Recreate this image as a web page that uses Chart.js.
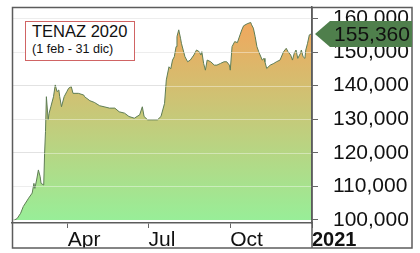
<!DOCTYPE html>
<html>
<head>
<meta charset="utf-8">
<script src="https://cdn.jsdelivr.net/npm/chart.js@4.4.1/dist/chart.umd.min.js"></script>
<style>
  html, body { margin: 0; padding: 0; background: #fff; }
  #wrap { position: relative; width: 420px; height: 253px; }
  canvas { display: block; }
  #note {
    position: absolute; left: 25px; top: 21px; width: 110px; height: 40px;
    box-sizing: border-box; border: 1px solid #d06464; background: #fff;
    font-family: "Liberation Sans", Arial, sans-serif; color: #111;
  }
  #note .t { position: absolute; left: 6px; top: 1px; font-size: 16.5px; line-height: 16.5px; white-space: nowrap; }
  #note .s { position: absolute; left: 6px; top: 21px; font-size: 12.6px; line-height: 12.6px; white-space: nowrap; }
</style>
</head>
<body>
<div id="wrap">
  <canvas id="chart" width="420" height="253"></canvas>
  <div id="note"><div class="t">TENAZ 2020</div><div class="s">(1 feb - 31 dic)</div></div>
</div>
<script>
// day of year 2020 (1 jan = 0) and close values
const days = [31, 34, 38, 41, 47, 51, 53, 54, 56, 58, 60, 61, 64, 65, 66, 67, 69, 70, 72, 75,
  77, 79, 81, 82, 84, 87, 90, 92, 95, 97, 103, 109, 110, 116, 121, 127, 132, 138, 144, 149,
  155, 160, 166, 172, 175, 177, 181, 187, 192, 196, 200, 202, 205, 207, 209, 211, 213, 214, 216, 218,
  219, 221, 223, 226, 229, 233, 236, 239, 241, 242, 244, 246, 248, 252, 256, 259, 263, 267, 270, 273,
  274, 276, 279, 282, 285, 287, 289, 293, 297, 298, 300, 302, 304, 306, 310, 312, 313, 315, 319, 323,
  326, 330, 334, 337, 339, 342, 344, 346, 348, 350, 353, 354, 356, 358, 359, 361, 363, 365];
const closes = [100000, 100400, 102000, 104000, 106500, 108000, 110900, 109400, 111900, 114900, 112900, 110900, 110400, 119900, 126300, 136700, 129800, 131700, 133700, 136700,
  140200, 138200, 138700, 136700, 133700, 136700, 138200, 139200, 139700, 137700, 137700, 137200, 136700, 135500, 135000, 134000, 133700, 133300, 133300, 132200,
  131800, 130800, 130300, 131300, 133700, 130800, 129800, 129800, 129800, 130800, 134700, 141700, 145600, 145000, 147600, 148600, 151600, 154600, 156600, 154100,
  152600, 150600, 148600, 147100, 147600, 149100, 150600, 150100, 149100, 150100, 146600, 144600, 147600, 147100, 146100, 146100, 146600, 147100, 147100, 146100,
  144600, 151600, 153100, 152800, 155100, 156600, 157800, 158400, 158800, 158100, 157100, 154600, 151600, 150100, 147600, 148100, 147100, 145100, 146100, 146600,
  147100, 147600, 150100, 151100, 150100, 149100, 147600, 149600, 150600, 148100, 149600, 150600, 148600, 148100, 150600, 152600, 155100, 155360];

const xTickDays = [91, 182, 274, 366];
const xTickLabels = ["Apr", "Jul", "Oct", "2021"];
const yTicks = [100000, 110000, 120000, 130000, 140000, 150000, 160000];

const FONT = "'Liberation Sans', Arial, sans-serif";

const framePlugin = {
  id: "frame",
  afterDatasetsDraw(chart) {
    const {ctx, chartArea: a, scales: {y}} = chart;
    ctx.save();
    ctx.strokeStyle = "rgba(255,255,255,0.4)";
    ctx.lineWidth = 1;
    yTicks.forEach(v => {
      const py = Math.round(y.getPixelForValue(v)) + 0.5;
      ctx.beginPath();
      ctx.moveTo(a.left, py);
      ctx.lineTo(a.right, py);
      ctx.stroke();
    });
    ctx.restore();
  },
  afterDraw(chart) {
    const {ctx, chartArea: a, scales: {y}} = chart;
    ctx.save();
    ctx.strokeStyle = "#5c5c5c";
    ctx.lineWidth = 1.5;
    ctx.strokeRect(12.5, 7.5, 399.5, 240.5);
    ctx.beginPath();
    ctx.moveTo(a.right, a.top);
    ctx.lineTo(a.right, 248);
    ctx.stroke();

    // last value callout
    const last = closes[closes.length - 1];
    const py = y.getPixelForValue(last);
    const tip = a.right + 3, body = a.right + 18, end = 412, h = 13;
    ctx.fillStyle = "#4f7f4c";
    ctx.beginPath();
    ctx.moveTo(tip, py);
    ctx.lineTo(body, py - h);
    ctx.lineTo(end, py - h);
    ctx.lineTo(end, py + h);
    ctx.lineTo(body, py + h);
    ctx.closePath();
    ctx.fill();
    ctx.fillStyle = "#111";
    ctx.font = "21px " + FONT;
    ctx.textAlign = "center";
    ctx.textBaseline = "middle";
    ctx.fillText(last.toLocaleString("en-US"), (body + end) / 2 + 1, py + 1);
    ctx.restore();
  }
};

function areaGradient(c) {
  const chart = c.chart;
  const a = chart.chartArea;
  const y = chart.scales.y;
  if (!a || !y) return "#c8cc80";
  const top = y.getPixelForValue(160000), bottom = y.getPixelForValue(100000);
  if (!isFinite(top) || !isFinite(bottom)) return "#c8cc80";
  const g = chart.ctx.createLinearGradient(0, top, 0, bottom);
  g.addColorStop(0, "#f2a65c");
  g.addColorStop(1, "#98ee98");
  return g;
}

const ctx = document.getElementById("chart").getContext("2d");
new Chart(ctx, {
  type: "line",
  data: {
    datasets: [{
      data: days.map((d, i) => ({x: d, y: closes[i]})),
      borderColor: "#5e7d55",
      borderWidth: 1,
      pointRadius: 0,
      tension: 0,
      fill: {value: 100000},
      backgroundColor: areaGradient
    }]
  },
  options: {
    responsive: false,
    animation: false,
    devicePixelRatio: 1,
    layout: {padding: {left: 12, top: 7, right: 8, bottom: 5}},
    plugins: {legend: {display: false}, tooltip: {enabled: false}},
    scales: {
      x: {
        type: "linear",
        min: 28.3,
        max: 366,
        afterBuildTicks: s => { s.ticks = xTickDays.map(v => ({value: v})); },
        afterFit: s => { s.height = 25; s.paddingLeft = 0; s.paddingRight = 0; },
        border: {display: true, color: "#5c5c5c", width: 1.5},
        grid: {drawOnChartArea: false, drawTicks: true, tickLength: 5, tickColor: "#666"},
        ticks: {
          autoSkip: false,
          maxRotation: 0,
          align: "start",
          padding: 0,
          color: "#111",
          callback: v => xTickLabels[xTickDays.indexOf(v)],
          font: c => (c.tick && c.tick.value === 366)
            ? {family: FONT, size: 20, weight: "bold"}
            : {family: FONT, size: 21}
        }
      },
      y: {
        position: "right",
        min: 99100,
        max: 163400,
        afterBuildTicks: s => { s.ticks = yTicks.map(v => ({value: v})); },
        afterFit: s => { s.width = 100; s.paddingTop = 0; s.paddingBottom = 0; },
        border: {display: true, color: "#5c5c5c", width: 1.5},
        grid: {color: "#e2e2e2", lineWidth: 1, drawTicks: true, tickLength: 6, tickColor: "#666"},
        ticks: {
          padding: 15,
          color: "#111",
          font: {family: FONT, size: 21},
          callback: v => v.toLocaleString("en-US")
        }
      }
    }
  },
  plugins: [framePlugin]
});
</script>
</body>
</html>
